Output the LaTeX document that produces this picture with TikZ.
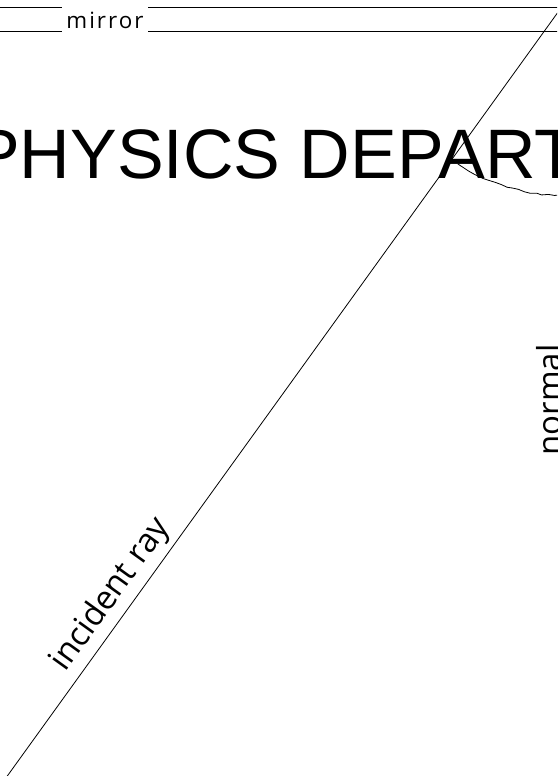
\documentclass[tikz,border=0pt]{standalone}
\usepackage{fontspec}
\setmainfont{Open Sans}
\newfontfamily\bannerfont{Liberation Sans}
\newfontfamily\spacedfont{Open Sans}[LetterSpace=9]
\usetikzlibrary{decorations.pathmorphing}

\begin{document}
\begin{tikzpicture}[x=1pt, y=-1pt]
    \tikzset{
        banner/.style={
            inner sep=0pt, anchor=base west,
            font=\bannerfont\fontsize{70}{80}\selectfont
        },
        mirrorline/.style={
            draw=black, line width=1pt
        },
        mirrortext/.style={
            fill=white, inner xsep=4pt, minimum height=27pt,
            font=\spacedfont\fontsize{22.4}{26}\selectfont
        },
        ray/.style={
            draw=black, line width=0.8pt
        },
        raytext/.style={
            inner sep=5pt,
            font=\fontsize{33}{40}\selectfont
        },
        anglearc/.style={
            draw=black, line width=0.8pt,
            decorate, decoration={random steps, segment length=6pt, amplitude=1pt}
        },
    }
    \pgfmathsetseed{11}
    \useasboundingbox (0,0) rectangle (557,776);
    \clip (0,0) rectangle (557,776);

    % ==== Department heading ====
    \node[banner] (dept) at (-27,178) {PHYSICS DEPART};

    % ==== Mirror ====
    \coordinate (m1) at (-20,8);
    \coordinate (m2) at (600,32);
    \draw[mirrorline] (m1) rectangle (m2);
    \node[mirrortext] (mirror) at (105,20) {mirror};

    % ==== Incident ray and angle ====
    \coordinate (O) at (561,8);
    \coordinate (S) at (-10,800);
    \draw[ray] (S) -- node[raytext, sloped, above, pos=0.243] (incident) {incident ray} (O);
    \draw[anglearc] (O) ++(123.5:187) arc[start angle=123.5, end angle=88, radius=187];

    % ==== Normal ====
    \node[raytext, inner sep=0pt, rotate=90, anchor=base] (normal) at (561,400) {normal};

\end{tikzpicture}
\end{document}
